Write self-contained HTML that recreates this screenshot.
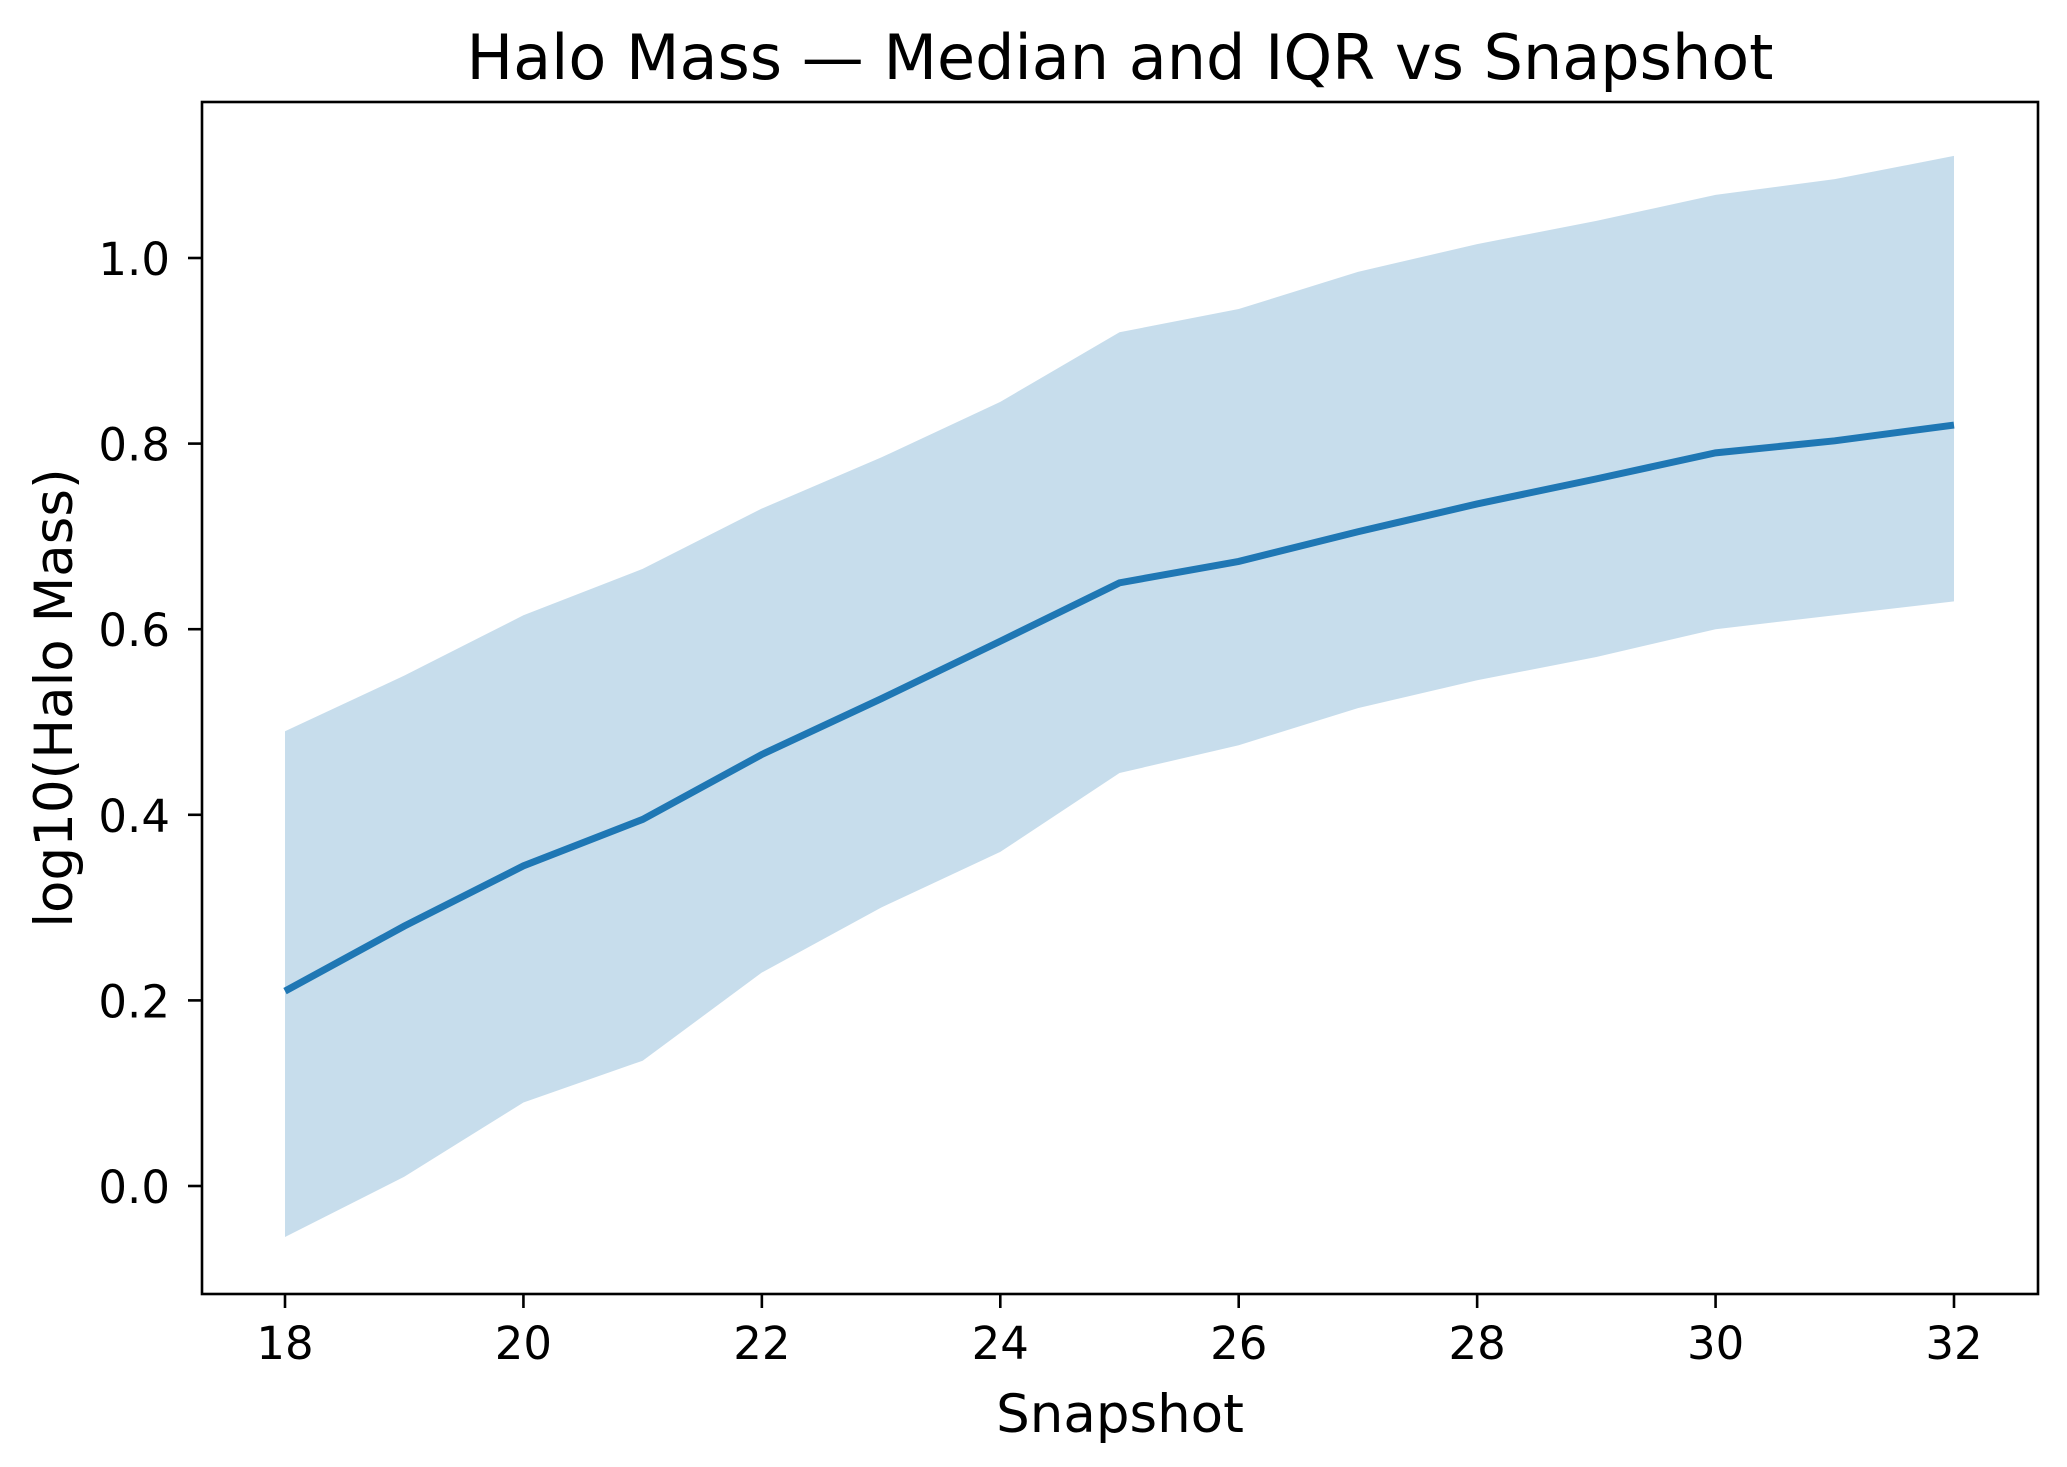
<!DOCTYPE html>
<html><head><meta charset="utf-8"><style>
html,body{margin:0;padding:0;background:#fff;}
svg{display:block;font-family:"DejaVu Sans","Liberation Sans",sans-serif;}
</style></head><body>
<svg id="chart" width="2067" height="1467" viewBox="0 0 2067 1467">
<text x="1120" y="79" font-size="62" text-anchor="middle">Halo Mass — Median and IQR vs Snapshot</text>
<text x="1120" y="1432" font-size="53" text-anchor="middle">Snapshot</text>
<text transform="translate(72,698) rotate(-90)" font-size="53" text-anchor="middle">log10(Halo Mass)</text>
<g id="plot"></g>
</svg>
<script>
const snapshots=[18,19,20,21,22,23,24,25,26,27,28,29,30,31,32];
const medianVals=[0.21,0.28,0.345,0.395,0.465,0.525,0.587,0.65,0.673,0.705,0.735,0.762,0.79,0.803,0.82];
const q75Vals=[0.49,0.55,0.615,0.665,0.73,0.785,0.845,0.92,0.945,0.985,1.015,1.04,1.068,1.085,1.11];
const q25Vals=[-0.055,0.01,0.09,0.135,0.23,0.30,0.36,0.445,0.475,0.515,0.545,0.57,0.60,0.615,0.63];
const xTicks=[18,20,22,24,26,28,30,32];
const yTicks=[0.0,0.2,0.4,0.6,0.8,1.0];
const yTickLabels=["0.0","0.2","0.4","0.6","0.8","1.0"];

const L=202,R=2038,T=102,B=1294;
const x=v=>285+(v-18)*(1954-285)/14;
const y=v=>1186-v*(1186-258);
const NS="http://www.w3.org/2000/svg";
const g=document.getElementById('plot');
function mk(t,a){const e=document.createElementNS(NS,t);for(const k in a)e.setAttribute(k,a[k]);g.appendChild(e);return e;}

let d="M"+snapshots.map((s,i)=>x(s)+","+y(q75Vals[i])).join("L");
for(let i=snapshots.length-1;i>=0;i--)d+="L"+x(snapshots[i])+","+y(q25Vals[i]);
const band=mk('path',{d:d+"Z",fill:"#1f77b4","fill-opacity":"0.25",stroke:"none"});



const line=mk('polyline',{points:snapshots.map((s,i)=>x(s)+","+y(medianVals[i])).join(" "),fill:"none",stroke:"#1f77b4","stroke-width":"7"});



const frame=mk('rect',{x:L,y:T,width:R-L,height:B-T,fill:"none",stroke:"#000","stroke-width":"2.6"});



xTicks.forEach(t=>{
  const tk=mk('line',{x1:x(t),x2:x(t),y1:B,y2:B+14,stroke:"#000","stroke-width":"2.6"});
  
  
  const lb=mk('text',{x:x(t),y:1359,"font-size":"45","text-anchor":"middle"});
  lb.textContent=String(t);
  
  
});
yTicks.forEach((t,i)=>{
  const tk=mk('line',{x1:L-14,x2:L,y1:y(t),y2:y(t),stroke:"#000","stroke-width":"2.6"});
  
  
  const lb=mk('text',{x:170,y:y(t)+17,"font-size":"45","text-anchor":"end"});
  lb.textContent=yTickLabels[i];
  
  
});
</script>
</body></html>
